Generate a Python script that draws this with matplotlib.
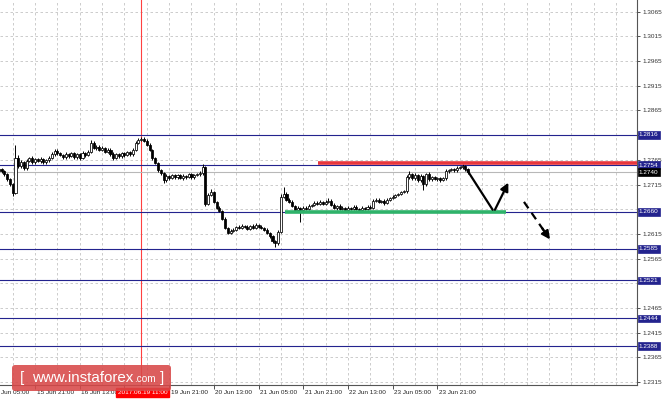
import matplotlib
matplotlib.use("Agg")
import matplotlib.pyplot as plt
import matplotlib.transforms as mtransforms
from matplotlib.patches import FancyBboxPatch, Rectangle
import numpy as np

# ---------------- data ----------------
first_open = 1.2746
closes = [
    1.2742, 1.2736, 1.2726, 1.2716, 1.2698, 1.2768, 1.2752, 1.2760, 1.2748, 1.2762,
    1.2768, 1.2760, 1.2766, 1.2762, 1.2766, 1.2760, 1.2764, 1.2768, 1.2776, 1.2784,
    1.2778, 1.2774, 1.2770, 1.2776, 1.2772, 1.2778, 1.2770, 1.2776, 1.2768, 1.2778,
    1.2774, 1.2782, 1.2800, 1.2790, 1.2792, 1.2786, 1.2790, 1.2782, 1.2786, 1.2776,
    1.2768, 1.2776, 1.2772, 1.2778, 1.2774, 1.2780, 1.2776, 1.2786, 1.2800, 1.2806,
    1.2808, 1.2804, 1.2796, 1.2786, 1.2768, 1.2758, 1.2744, 1.2738, 1.2724, 1.2732,
    1.2728, 1.2734, 1.2730, 1.2734, 1.2728, 1.2732, 1.2730, 1.2736, 1.2730, 1.2734,
    1.2736, 1.2738, 1.2750, 1.2676, 1.2694, 1.2700, 1.2680, 1.2668, 1.2662, 1.2646,
    1.2628, 1.2618, 1.2622, 1.2624, 1.2630, 1.2628, 1.2632, 1.2630, 1.2626, 1.2632,
    1.2628, 1.2634, 1.2630, 1.2628, 1.2624, 1.2618, 1.2610, 1.2600, 1.2596, 1.2620,
    1.2690, 1.2696, 1.2684, 1.2680, 1.2672, 1.2664, 1.2668, 1.2664, 1.2668, 1.2666,
    1.2672, 1.2674, 1.2678, 1.2676, 1.2680, 1.2676, 1.2680, 1.2682, 1.2674, 1.2668,
    1.2672, 1.2666, 1.2668, 1.2664, 1.2668, 1.2666, 1.2670, 1.2666, 1.2664, 1.2668,
    1.2666, 1.2670, 1.2668, 1.2682, 1.2684, 1.2680, 1.2682, 1.2678, 1.2684, 1.2688,
    1.2690, 1.2694, 1.2696, 1.2700, 1.2702, 1.2730, 1.2736, 1.2728, 1.2734, 1.2724,
    1.2732, 1.2716, 1.2736, 1.2726, 1.2730, 1.2726, 1.2728, 1.2724, 1.2728, 1.2742,
    1.2744, 1.2746, 1.2744, 1.2748, 1.2750, 1.2752, 1.2746, 1.2740,
]
upper_wick_pips = [
    3, 2, 3, 2, 3, 27, 6, 4, 3, 4,
    3, 4, 2, 3, 4, 3, 2, 4, 5, 3,
    4, 3, 2, 4, 3, 2, 4, 3, 3, 5,
    2, 4, 5, 4, 3, 3, 4, 2, 3, 3,
    4, 3, 3, 2, 4, 3, 3, 4, 3, 3,
    4, 3, 4, 3, 2, 3, 3, 2, 3, 4,
    2, 3, 3, 2, 3, 4, 2, 3, 3, 2,
    3, 4, 6, 2, 4, 6, 3, 2, 3, 2,
    3, 2, 3, 3, 2, 4, 3, 2, 3, 2,
    3, 3, 2, 3, 2, 3, 2, 3, 2, 4,
    6, 14, 4, 3, 3, 2, 3, 2, 3, 4,
    3, 2, 4, 3, 3, 2, 3, 6, 3, 3,
    2, 3, 3, 2, 3, 2, 3, 3, 2, 3,
    2, 3, 3, 4, 3, 3, 2, 3, 3, 2,
    3, 2, 3, 3, 2, 4, 6, 3, 4, 3,
    4, 3, 3, 4, 2, 3, 3, 2, 3, 4,
    3, 2, 3, 4, 3, 4, 2, 2,
]
lower_wick_pips = [
    3, 3, 4, 3, 6, 3, 4, 3, 4, 3,
    2, 3, 3, 2, 3, 3, 4, 3, 2, 3,
    3, 2, 4, 3, 3, 2, 3, 4, 3, 2,
    3, 2, 3, 3, 4, 2, 3, 3, 4, 3,
    3, 2, 3, 4, 3, 2, 3, 3, 2, 3,
    3, 3, 2, 3, 3, 2, 3, 4, 5, 3,
    3, 2, 3, 3, 2, 3, 3, 2, 3, 3,
    2, 3, 3, 4, 3, 3, 2, 3, 3, 2,
    3, 4, 3, 2, 3, 3, 2, 3, 3, 2,
    3, 2, 3, 3, 3, 3, 4, 3, 7, 3,
    3, 3, 3, 3, 2, 3, 3, 25, 4, 3,
    3, 2, 3, 3, 2, 3, 3, 2, 3, 3,
    4, 3, 2, 3, 4, 3, 2, 3, 3, 2,
    3, 3, 2, 3, 3, 2, 3, 4, 3, 2,
    3, 3, 2, 3, 3, 3, 3, 4, 3, 4,
    3, 12, 3, 3, 3, 2, 3, 3, 2, 3,
    3, 2, 3, 3, 2, 3, 3, 3,
]

date_labels = ["15 Jun 05:00", "15 Jun 21:00", "16 Jun 13:00", "19 Jun 05:00",
               "19 Jun 21:00", "20 Jun 13:00", "21 Jun 05:00", "21 Jun 21:00",
               "22 Jun 13:00", "23 Jun 05:00", "23 Jun 21:00"]
date_label_bars = [-4, 12, 28, 44, 60, 76, 92, 108, 124, 140, 156]
hidden_date_labels = ["19 Jun 05:00"]            # covered by the marker label

price_ticks = [1.2315, 1.2365, 1.2415, 1.2465, 1.2515, 1.2565, 1.2615, 1.2665,
               1.2715, 1.2765, 1.2815, 1.2865, 1.2915, 1.2965, 1.3015, 1.3065]
hidden_price_labels = [1.2515, 1.2665, 1.2815]   # covered by level boxes
level_lines = [1.2816, 1.2754, 1.2660, 1.2585, 1.2521, 1.2444, 1.2388]
current_price = 1.2740
resistance = 1.2758
resistance_start_bar = 113.3
support = 1.2659
support_span = (101.5, 180.6)
marker_bar = 50
marker_label = "2017.06.19 11:00"

# forecast arrows (bar, price)
path_down = [(166.7, 1.2744), (175.8, 1.2664)]
arrow_up = [(176.6, 1.2664), (181.4, 1.2719)]
arrow_dash = [(187.0, 1.2680), (196.3, 1.2604)]

# ---------------- figure ----------------
W, H = 665, 401
fig = plt.figure(figsize=(W / 100, H / 100), dpi=100)
fig.patch.set_facecolor("white")
ax = fig.add_axes([0, 16 / H, 637 / W, 385 / H])
ax.set_facecolor("white")

FONT = "Liberation Sans"
FS = 4.6
NAVY = "#23238e"
XLIM = (-0.537, 227.45)
YLIM = (1.230933, 1.308868)

ax.set_yticks(price_ticks)
ax.set_yticklabels(["" if p in hidden_price_labels else f"{p:.4f}" for p in price_ticks],
                   fontsize=FS, family=FONT, color="#222222")
ax.yaxis.tick_right()
ax.tick_params(axis="y", which="both", length=2.5, width=0.6, pad=1.5, colors="#333333")

ax.set_xticks(date_label_bars)
ax.set_xticklabels([""] * len(date_label_bars))
ax.tick_params(axis="x", length=3, width=0.6, colors="#333333")
ax.set_xlim(*XLIM)
ax.set_ylim(*YLIM)

for p in price_ticks:
    ax.axhline(p, color="#c4c4c4", lw=0.6, ls=(0, (3, 3)), zorder=0)
grid_bars = np.arange(4, 228, 8)
for b in grid_bars:
    ax.axvline(b, color="#c4c4c4", lw=0.6, ls=(0, (3, 3)), zorder=0)

trx = mtransforms.blended_transform_factory(ax.transData, ax.transAxes)
shift = mtransforms.ScaledTranslation(1.5 / 100, -7.5 / 100, fig.dpi_scale_trans)
for b, lab in zip(date_label_bars, date_labels):
    if lab in hidden_date_labels:
        continue
    ax.text(b, 0, lab, transform=trx + shift, fontsize=FS, family=FONT, color="#222222",
            ha="left", va="center", clip_on=False, zorder=10)

for s in ["top", "left"]:
    ax.spines[s].set_visible(False)
for s in ["right", "bottom"]:
    ax.spines[s].set_color("#555555")
    ax.spines[s].set_linewidth(0.8)

ax.axvline(marker_bar, color="#ff4040", lw=0.8, zorder=1)

for lv in level_lines:
    ax.axhline(lv, color=NAVY, lw=0.8, zorder=2)
ax.axhline(current_price, color="#b8b8b8", lw=0.8, zorder=2)

# candles
n = len(closes)
opens = [first_open] + closes[:-1]
xs = np.arange(n)
for i in range(n):
    o, c = opens[i], closes[i]
    hi = max(o, c) + upper_wick_pips[i] * 0.0001
    lo = min(o, c) - lower_wick_pips[i] * 0.0001
    ax.vlines(xs[i], lo, hi, color="black", lw=0.7, zorder=4)
    bot = min(o, c)
    h = max(abs(c - o), 0.00005)
    fc = "white" if c >= o else "black"
    ax.add_patch(Rectangle((xs[i] - 0.37, bot), 0.74, h, facecolor=fc,
                           edgecolor="black", lw=0.55, zorder=5))

# support / resistance
ax.plot([resistance_start_bar, XLIM[1]], [resistance, resistance], color="#e8363c",
        lw=2.6, solid_capstyle="butt", zorder=6)
ax.plot(list(support_span), [support, support], color="#2fb36a", lw=2.6,
        solid_capstyle="butt", zorder=6)

# forecast arrows
ax.plot([path_down[0][0], path_down[1][0]], [path_down[0][1], path_down[1][1]],
        color="black", lw=1.6, zorder=7, solid_capstyle="round")
ax.annotate("", xy=arrow_up[1], xytext=arrow_up[0],
            arrowprops=dict(arrowstyle="-|>", color="black", lw=1.6,
                            mutation_scale=12, shrinkA=0, shrinkB=0), zorder=7)
x0, y0 = arrow_dash[0]
x1, y1 = arrow_dash[1]
ax.plot([x0, x0 + (x1 - x0) * 0.78], [y0, y0 + (y1 - y0) * 0.78], color="black", lw=1.6,
        ls=(0, (3.5, 2.5)), zorder=7)
ax.annotate("", xy=arrow_dash[1], xytext=(x0 + (x1 - x0) * 0.7, y0 + (y1 - y0) * 0.7),
            arrowprops=dict(arrowstyle="-|>", color="black", lw=1.6,
                            mutation_scale=12, shrinkA=0, shrinkB=0), zorder=7)

# right axis level labels
tr = mtransforms.blended_transform_factory(ax.transAxes, ax.transData)
for lv in level_lines:
    ax.text(1.003, lv, f"{lv:.4f}", transform=tr, fontsize=FS, family=FONT, color="white",
            va="center", ha="left", zorder=20, clip_on=False,
            bbox=dict(boxstyle="square,pad=0.22", fc=NAVY, ec=NAVY, lw=0.5))
ax.text(1.003, current_price, f"{current_price:.4f}", transform=tr, fontsize=FS, family=FONT,
        color="white", va="center", ha="left", zorder=21, clip_on=False,
        bbox=dict(boxstyle="square,pad=0.22", fc="black", ec="black", lw=0.5))

# marker date label
ax.text(marker_bar + 0.6, 0, marker_label,
        transform=trx + mtransforms.ScaledTranslation(0, -7.5 / 100, fig.dpi_scale_trans),
        fontsize=FS, family=FONT, color="white", ha="center", va="center", zorder=21,
        clip_on=False, bbox=dict(boxstyle="square,pad=0.25", fc="#ff0000", ec="#ff0000"))

# watermark
wm = FancyBboxPatch((12 / 100, (H - 391) / 100), 159 / 100, 26 / 100,
                    boxstyle="round,pad=0,rounding_size=0.03",
                    transform=fig.dpi_scale_trans, fc="#d84848", ec="none",
                    alpha=0.88, zorder=30)
fig.patches.append(wm)
base_y = (H - 382) / H
fig.text(20 / W, base_y, "[", fontsize=10.9, family=FONT, color="white",
         va="baseline", ha="left", zorder=31)
t_main = fig.text(32 / W, base_y, "www.instaforex", fontsize=10.9, family=FONT,
                  color="white", va="baseline", ha="left", zorder=31)
fig.canvas.draw()
ext = t_main.get_window_extent(renderer=fig.canvas.get_renderer())
fig.text((ext.x1 + 0.3) / W, base_y, ".com", fontsize=7.2, family=FONT, color="white",
         va="baseline", ha="left", zorder=31)
fig.text(160 / W, base_y, "]", fontsize=10.9, family=FONT, color="white",
         va="baseline", ha="left", zorder=31)

fig.savefig("out.png", dpi=100, facecolor="white")
